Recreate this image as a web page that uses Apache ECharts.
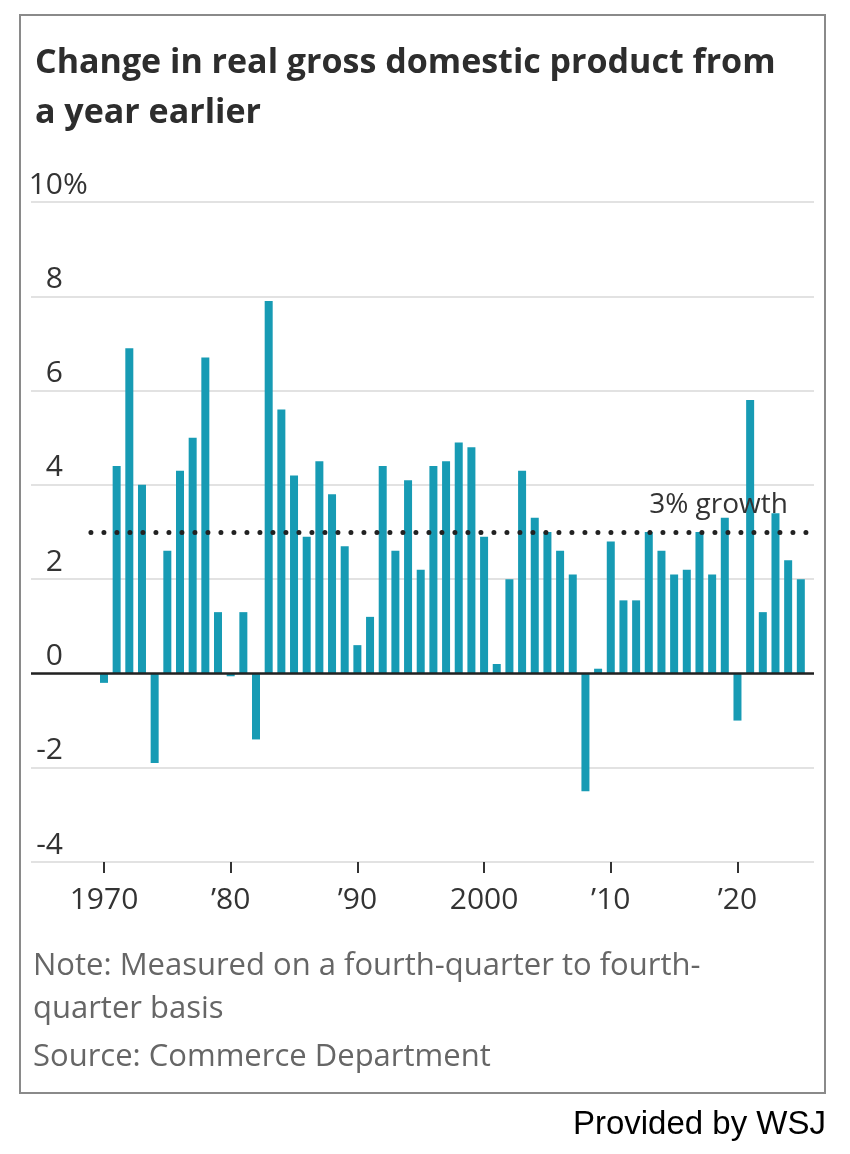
<!doctype html>
<html>
 <head>
  <meta charset="UTF-8">
  <script src="https://cdn.jsdelivr.net/npm/echarts@6/dist/echarts.min.js"></script>
  <title>Change in real gross domestic product</title>
  <style>
   body { margin: 0; background: #fff; }
  </style>
 </head>
 <body>
  <div id="chart" style="width: 850px; height: 1154px; margin: 0"></div>
 <script type="text/javascript">
  // year-over-year change in real GDP, Q4 to Q4, percent
  var years = [1970, 1971, 1972, 1973, 1974, 1975, 1976, 1977, 1978, 1979,
               1980, 1981, 1982, 1983, 1984, 1985, 1986, 1987, 1988, 1989,
               1990, 1991, 1992, 1993, 1994, 1995, 1996, 1997, 1998, 1999,
               2000, 2001, 2002, 2003, 2004, 2005, 2006, 2007, 2008, 2009,
               2010, 2011, 2012, 2013, 2014, 2015, 2016, 2017, 2018, 2019,
               2020, 2021, 2022, 2023, 2024, 2025];
  var gdpChange = [-0.2, 4.4, 6.9, 4.0, -1.9, 2.6, 4.3, 5.0, 6.7, 1.3,
                   -0.06, 1.3, -1.4, 7.9, 5.6, 4.2, 2.9, 4.5, 3.8, 2.7,
                   0.6, 1.2, 4.4, 2.6, 4.1, 2.2, 4.4, 4.5, 4.9, 4.8,
                   2.9, 0.2, 2.0, 4.3, 3.3, 3.0, 2.6, 2.1, -2.5, 0.1,
                   2.8, 1.55, 1.55, 3.0, 2.6, 2.1, 2.2, 3.0, 2.1, 3.3,
                   -1.0, 5.8, 1.3, 3.4, 2.4, 2.0];
  var xTickYears = [1970, 1980, 1990, 2000, 2010, 2020];
  var xTickLabels = ['1970', '\u201980', '\u201990', '2000', '\u201910', '\u201920'];
  var growthRef = 3;
  var growthLabel = '3% growth';

  var lightFont = '"Open Sans", "Noto Sans", sans-serif';

  var myChart = echarts.init(document.getElementById('chart'));
  var barData = years.map(function (y, i) { return [y, gdpChange[i]]; });

  myChart.setOption({
    backgroundColor: '#fff',
    animation: false,
    title: {
      text: 'Change in real gross domestic product from\na year earlier',
      left: 30,
      top: 33,
      textStyle: {
        fontFamily: '"Open Sans", sans-serif',
        fontWeight: 'bold',
        fontSize: 34,
        lineHeight: 50,
        color: '#2d2d2d'
      }
    },
    grid: { left: 31, right: 36, top: 202, bottom: 292 },
    xAxis: {
      type: 'value',
      min: 1964.24,
      max: 2026.04,
      axisLine: { show: false, onZero: false },
      splitLine: { show: false },
      axisTick: {
        show: true,
        length: 11,
        customValues: xTickYears,
        lineStyle: { color: '#333', width: 2 }
      },
      axisLabel: {
        customValues: xTickYears,
        margin: 23,
        fontFamily: lightFont,
        fontSize: 30,
        color: '#333',
        formatter: function (v) {
          var i = xTickYears.indexOf(v);
          return i >= 0 ? xTickLabels[i] : '';
        }
      }
    },
    yAxis: [{
      type: 'value',
      min: -4,
      max: 10,
      interval: 2,
      axisLine: { show: false },
      axisTick: { show: false },
      splitLine: { lineStyle: { color: '#e2e2e2', width: 2 } },
      axisLabel: {
        inside: true,
        margin: 32,
        align: 'right',
        verticalAlign: 'bottom',
        padding: [0, 0, 2, 0],
        fontFamily: lightFont,
        fontSize: 30,
        color: '#333'
      }
    }, {
      // the "%" that hangs after the top label
      type: 'value',
      min: -4,
      max: 10,
      interval: 2,
      position: 'left',
      axisLine: { show: false },
      axisTick: { show: false },
      splitLine: { show: false },
      axisLabel: {
        inside: true,
        margin: 32,
        align: 'left',
        verticalAlign: 'bottom',
        padding: [0, 0, 2, 0],
        fontFamily: lightFont,
        fontSize: 30,
        color: '#333',
        formatter: function (v) { return v === 10 ? '%' : ''; }
      }
    }],
    series: [{
      type: 'bar',
      yAxisIndex: 0,
      data: barData,
      barWidth: 8,
      itemStyle: { color: '#179bb4' },
      markLine: {
        silent: true,
        symbol: ['none', 'none'],
        animation: false,
        data: [
          [{
            coord: [1968.97, growthRef],
            lineStyle: { color: '#222', width: 5, type: [0, 13], cap: 'round' },
            label: {
              show: true,
              position: 'insideEndTop',
              formatter: growthLabel,
              fontFamily: lightFont,
              fontSize: 28,
              color: '#333',
              distance: 0,
              padding: [0, 23, 13, 0]
            }
          }, {
            coord: [2025.8, growthRef]
          }],
          {
            yAxis: 0,
            lineStyle: { color: '#222', width: 2.5, type: 'solid' },
            label: { show: false }
          }
        ]
      }
    }],
    graphic: [
      {
        type: 'rect',
        shape: { x: 20, y: 15, width: 805, height: 1078 },
        style: { fill: 'none', stroke: '#8a8a8a', lineWidth: 2 },
        z: -1
      },
      {
        type: 'text',
        x: 33, y: 966,
        style: { text: 'Note: Measured on a fourth-quarter to fourth-', font: '31px ' + lightFont, fill: '#666', verticalAlign: 'middle' }
      },
      {
        type: 'text',
        x: 33, y: 1009,
        style: { text: 'quarter basis', font: '31px ' + lightFont, fill: '#666', verticalAlign: 'middle' }
      },
      {
        type: 'text',
        x: 33, y: 1057,
        style: { text: 'Source: Commerce Department', font: '31px ' + lightFont, fill: '#666', verticalAlign: 'middle' }
      },
      {
        type: 'text',
        x: 826, y: 1125,
        style: { text: 'Provided by WSJ', font: '33px "Liberation Sans", Arial, sans-serif', fill: '#000', align: 'right', verticalAlign: 'middle' }
      }
    ]
  });
 </script>
 </body>
</html>
